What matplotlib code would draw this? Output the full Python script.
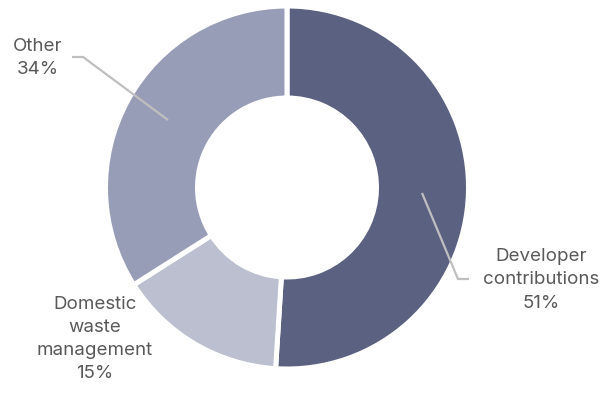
import matplotlib
matplotlib.use("Agg")
import matplotlib.pyplot as plt

labels = ["Developer\ncontributions", "Domestic\nwaste\nmanagement", "Other"]
values = [51, 15, 34]
colors = ["#5b6180", "#bbbfd0", "#979db6"]

W, H = 610, 394
fig = plt.figure(figsize=(W / 100, H / 100), dpi=100)
ax = fig.add_axes([0, 0, 1, 1])
ax.set_xlim(0, W)
ax.set_ylim(0, H)
ax.set_aspect("equal")
ax.axis("off")

cx, cy = 287, H - 187.5
R = 181.5
ax.pie(values, colors=colors, startangle=90, counterclock=False,
       center=(cx, cy), radius=R,
       wedgeprops=dict(width=92, edgecolor="white", linewidth=3.6))
ax.set_xlim(0, W)
ax.set_ylim(0, H)

font = dict(family=["Inter", "DejaVu Sans"], color="#595959", fontsize=13.5,
            linespacing=1.48)
line_c = "#bfbfbf"

def Y(p):
    return H - p

# Other
ax.plot([72, 83, 168], [Y(57), Y(57), Y(120)], color=line_c, lw=1.6,
        solid_capstyle="butt")
ax.text(38, Y(58), f"{labels[2]}\n{values[2]}%", ha="center", va="center", **font)

# Developer
ax.plot([422, 458, 469], [Y(193), Y(279), Y(279)], color=line_c, lw=1.6,
        solid_capstyle="butt")
ax.text(541, Y(280), f"{labels[0]}\n{values[0]}%", ha="center", va="center", **font)

# Domestic
ax.text(95, Y(339), f"{labels[1]}\n{values[1]}%", ha="center", va="center", **font)

fig.savefig("out.png", dpi=100)
